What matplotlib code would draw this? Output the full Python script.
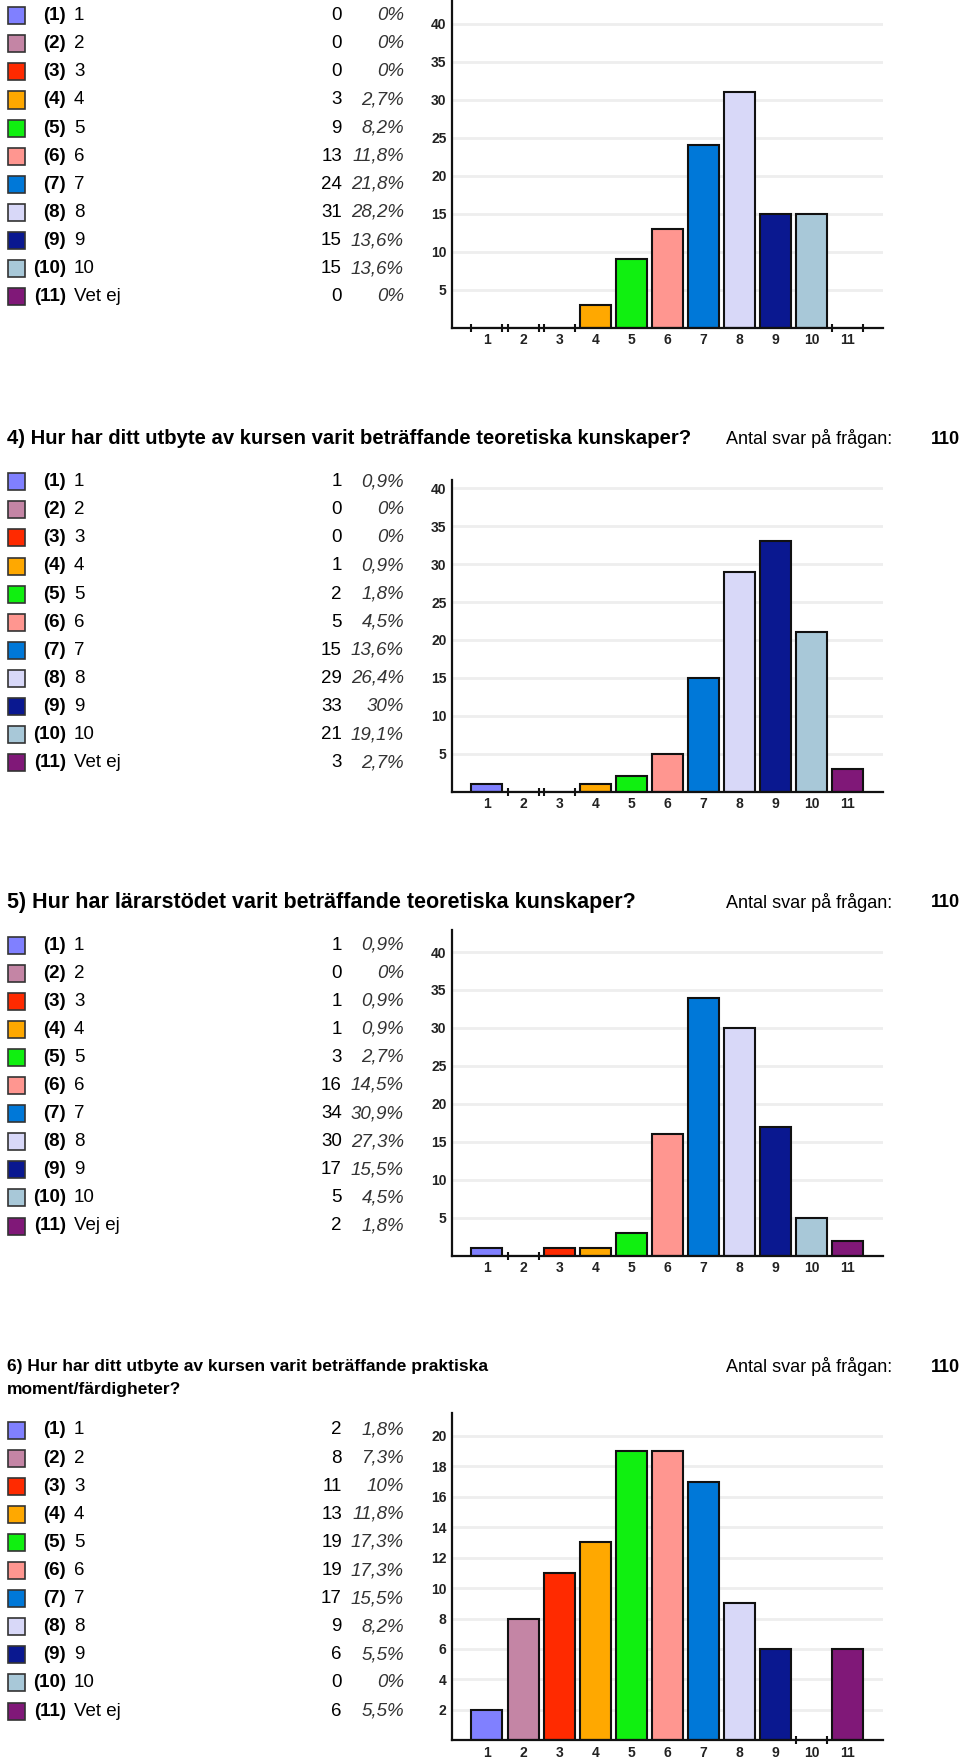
import matplotlib
matplotlib.use('Agg')
import matplotlib.pyplot as plt
from matplotlib.patches import Rectangle
import numpy as np

plt.rcParams['font.family'] = ['Liberation Sans', 'DejaVu Sans']

# svarsalternativ och färger
labels = ['1', '2', '3', '4', '5', '6', '7', '8', '9', '10', 'Vet ej']
labels_q5 = ['1', '2', '3', '4', '5', '6', '7', '8', '9', '10', 'Vej ej']
colors = ['#8080FF', '#C485A5', '#FF2A00', '#FFA800', '#10F010', '#FF9690',
          '#0078D8', '#D8D8F8', '#0A1890', '#A8C8D8', '#801878']

# antal svar per fråga
counts_q3 = [0, 0, 0, 3, 9, 13, 24, 31, 15, 15, 0]
pcts_q3 = ['0%', '0%', '0%', '2,7%', '8,2%', '11,8%', '21,8%', '28,2%', '13,6%', '13,6%', '0%']
counts_q4 = [1, 0, 0, 1, 2, 5, 15, 29, 33, 21, 3]
pcts_q4 = ['0,9%', '0%', '0%', '0,9%', '1,8%', '4,5%', '13,6%', '26,4%', '30%', '19,1%', '2,7%']
counts_q5 = [1, 0, 1, 1, 3, 16, 34, 30, 17, 5, 2]
pcts_q5 = ['0,9%', '0%', '0,9%', '0,9%', '2,7%', '14,5%', '30,9%', '27,3%', '15,5%', '4,5%', '1,8%']
counts_q6 = [2, 8, 11, 13, 19, 19, 17, 9, 6, 0, 6]
pcts_q6 = ['1,8%', '7,3%', '10%', '11,8%', '17,3%', '17,3%', '15,5%', '8,2%', '5,5%', '0%', '5,5%']

header_q4 = ['4) Hur har ditt utbyte av kursen varit beträffande teoretiska kunskaper?']
header_q5 = ['5) Hur har lärarstödet varit beträffande teoretiska kunskaper?']
header_q6 = ['6) Hur har ditt utbyte av kursen varit beträffande praktiska',
             'moment/färdigheter?']
antal = 110

W, H = 960, 1761
fig = plt.figure(figsize=(W / 100, H / 100), dpi=100)
fig.patch.set_facecolor('white')

narrow = ['Liberation Sans Narrow', 'Liberation Sans', 'DejaVu Sans']


def fx(x):
    return x / W


def fy(y):
    return 1 - y / H


def legend_block(y_first, labs, counts, pcts, step=28.1):
    for i, (lab, c, p, col) in enumerate(zip(labs, counts, pcts, colors)):
        y = y_first + i * step
        fig.patches.append(Rectangle((fx(8), fy(y + 8.5)), 17 / W, 17 / H,
                                     transform=fig.transFigure, facecolor=col,
                                     edgecolor='#333333', linewidth=1.2))
        fig.text(fx(66), fy(y), f'({i + 1})', ha='right', va='center',
                 fontsize=13.5, fontweight='bold')
        fig.text(fx(74), fy(y), lab, ha='left', va='center', fontsize=13.5)
        fig.text(fx(342), fy(y), str(c), ha='right', va='center', fontsize=13.5)
        fig.text(fx(404), fy(y), p, ha='right', va='center', fontsize=13.5,
                 style='italic', color='#333333')


def bar_chart(y_top, y_zero, ymax, counts, yticks):
    ax = fig.add_axes([fx(452), fy(y_zero), fx(883) - fx(452),
                       (y_zero - y_top) / H])
    x = np.arange(1, 12)
    w = 0.86
    ax.bar(x, counts, width=w, color=colors, edgecolor='#111111',
           linewidth=1.5, zorder=3)
    # små markeringar vid tomma staplar
    zx = [xi + s * w / 2 for xi, c in zip(x, counts) if c == 0 for s in (-1, 1)]
    if zx:
        ax.plot(zx, [0] * len(zx), ls='none', marker='|', markersize=6,
                mew=1.5, color='#111111', clip_on=False, zorder=5)
    ax.set_xlim(0.03, 11.98)
    ax.set_ylim(0, ymax)
    ax.set_yticks(yticks)
    ax.set_yticklabels([str(t) for t in yticks], family=narrow,
                       fontweight='bold', fontsize=10, color='#222222')
    ax.set_xticks(x)
    ax.set_xticklabels([str(i) for i in x], family=narrow, fontweight='bold',
                       fontsize=10, color='#222222')
    ax.tick_params(axis='both', length=0)
    ax.tick_params(axis='y', pad=4)
    ax.tick_params(axis='x', pad=4)
    for s in ('top', 'right'):
        ax.spines[s].set_visible(False)
    for s in ('left', 'bottom'):
        ax.spines[s].set_linewidth(1.6)
        ax.spines[s].set_color('#111111')
        ax.spines[s].set_zorder(6)
    ax.yaxis.grid(True, color='#EEEEEE', linewidth=2, zorder=0)
    ax.set_axisbelow(True)
    return ax


def header(y, lines, size):
    for k, line in enumerate(lines):
        fig.text(fx(7), fy(y + k * 22.5), line, ha='left', va='center',
                 fontsize=size, fontweight='bold', family=narrow)
    fig.text(fx(726), fy(y), 'Antal svar på frågan:', ha='left', va='center',
             fontsize=13, family=narrow)
    fig.text(fx(960), fy(y), str(antal), ha='right', va='center', fontsize=13,
             fontweight='bold', family=narrow)


# fråga 3 (avklippt överst)
legend_block(15.7, labels, counts_q3, pcts_q3)
bar_chart(0, 327.5, 43.1, counts_q3, [5, 10, 15, 20, 25, 30, 35, 40])

# fråga 4
header(439, header_q4, 14.6)
legend_block(481.7, labels, counts_q4, pcts_q4)
bar_chart(480, 791.5, 41.1, counts_q4, [5, 10, 15, 20, 25, 30, 35, 40])

# fråga 5
header(903, header_q5, 15.5)
legend_block(945.0, labels_q5, counts_q5, pcts_q5)
bar_chart(930, 1255.7, 42.9, counts_q5, [5, 10, 15, 20, 25, 30, 35, 40])

# fråga 6
header(1367, header_q6, 12.5)
legend_block(1430.0, labels, counts_q6, pcts_q6)
bar_chart(1413, 1740.3, 21.5, counts_q6, [2, 4, 6, 8, 10, 12, 14, 16, 18, 20])

fig.savefig('out.png', dpi=100, facecolor='white')
